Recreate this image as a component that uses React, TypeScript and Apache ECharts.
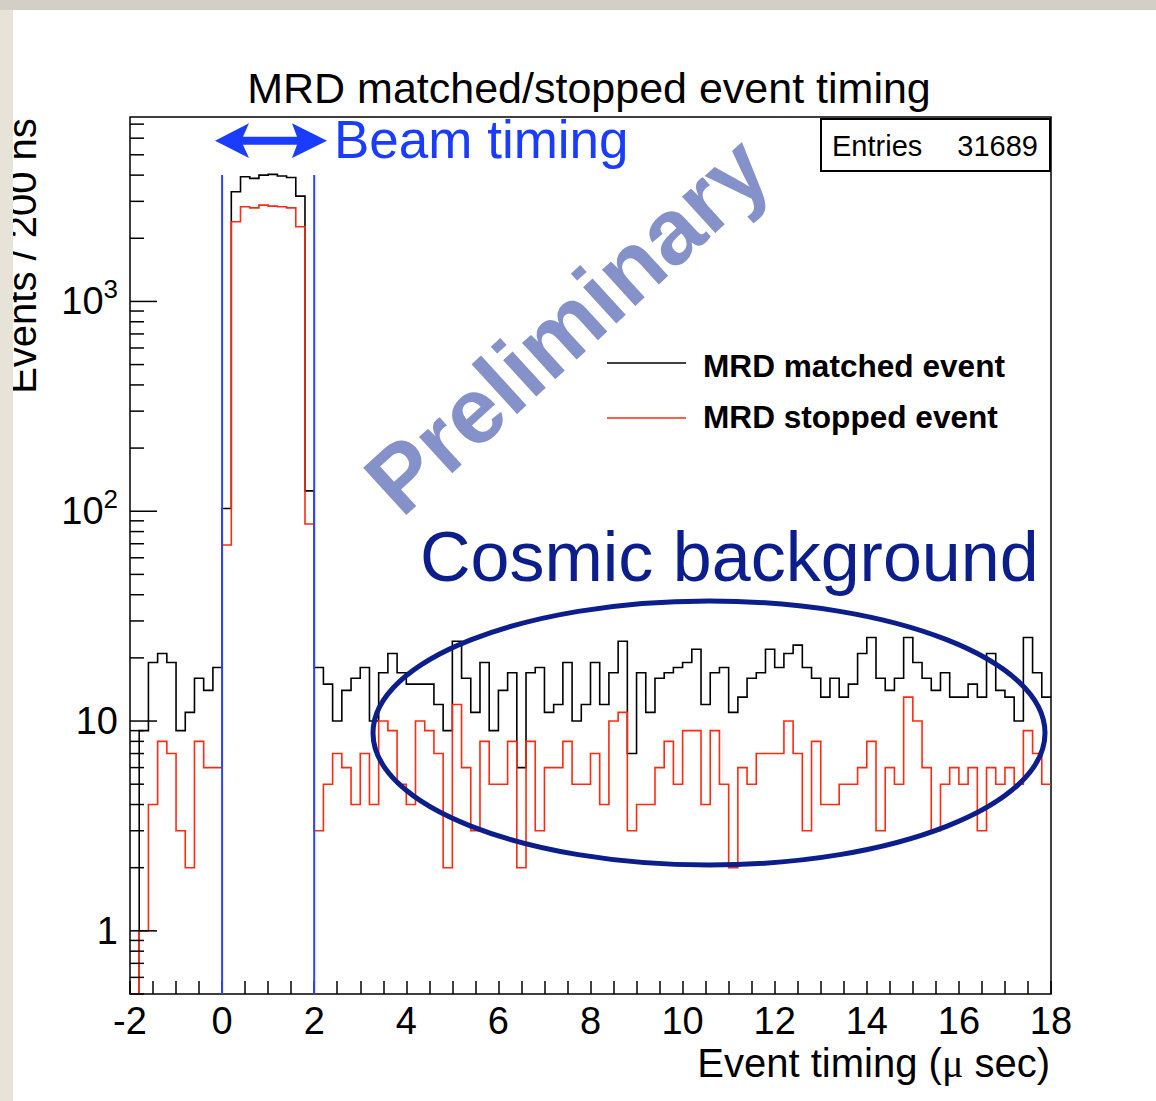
import React, { useEffect, useRef } from "react";
import * as echarts from "echarts";

// ---- data ----
const X_MIN = -2;
const X_MAX = 18;
const X_LABEL_STEP = 2;
const BIN_WIDTH = 0.2; // 200 ns bins
const Y_MIN = 0.5;
const Y_MAX = 7570;

// MRD matched event (black), 100 bins of 200 ns from -2 us
const matched = [
  0, 9, 19, 21, 19, 9, 11, 16, 14, 18,
  103, 3333, 3927, 3860, 4000, 4035, 3960, 3900, 3177, 125,
  18, 15, 10, 14, 16, 18, 10, 17, 21, 17,
  15, 15, 15, 12, 9, 24, 16, 11, 19, 9,
  14, 17, 6, 17, 18, 11, 12, 19, 10, 12,
  19, 12, 17, 24, 7, 17, 11, 16, 17, 18,
  19, 22, 12, 17, 18, 11, 13, 16, 17, 22,
  18, 21, 23, 18, 16, 13, 16, 13, 15, 21,
  25, 16, 14, 16, 25, 19, 16, 14, 17, 13,
  13, 15, 13, 21, 14, 13, 10, 25, 17, 13,
];

// MRD stopped event (red)
const stopped = [
  0, 1, 4, 8, 7, 3, 2, 8, 6, 6,
  69, 2398, 2827, 2793, 2877, 2847, 2827, 2793, 2268, 87,
  3, 5, 7, 6, 4, 7, 4, 10, 9, 5,
  4, 10, 9, 7, 2, 12, 6, 3, 8, 5,
  5, 8, 2, 8, 3, 6, 6, 8, 5, 5,
  7, 4, 10, 11, 3, 4, 4, 6, 8, 5,
  9, 9, 4, 9, 5, 2, 6, 5, 7, 7,
  7, 10, 7, 3, 8, 4, 4, 5, 5, 6,
  8, 3, 6, 5, 13, 10, 6, 3, 5, 6,
  5, 6, 3, 6, 5, 6, 5, 9, 7, 5,
];

const beamWindow = [0, 2];
const BEAM_LINE_TOP = 4000;
const ENTRIES = 31689;

const TITLE = "MRD matched/stopped event timing";
const LEGEND_MATCHED = "MRD matched event";
const LEGEND_STOPPED = "MRD stopped event";

const FONT = '"Liberation Sans", Arial, Helvetica, sans-serif';
const BLUE = "#1a3cff";
const NAVY = "#0b1e8c";

export default function App() {
  const ref = useRef<HTMLDivElement>(null);

  useEffect(() => {
    const chart = echarts.init(ref.current as HTMLDivElement, null, { renderer: "svg" });

    const histSeries = (name: string, values: number[], color: string, z: number) => ({
      type: "custom",
      name,
      data: [[X_MIN, 1]],
      clip: true,
      silent: true,
      z,
      renderItem: (_p: any, api: any) => {
        const pts: number[][] = [];
        values.forEach((v, i) => {
          const lo = X_MIN + i * BIN_WIDTH;
          const hi = lo + BIN_WIDTH;
          const y = Math.max(v, Y_MIN);
          pts.push(api.coord([lo, y]));
          pts.push(api.coord([hi, y]));
        });
        return {
          type: "polyline",
          shape: { points: pts },
          style: { stroke: color, lineWidth: 1.6, fill: null },
        };
      },
    });

    const yTickSeries = {
      type: "custom",
      data: [[X_MIN, 1]],
      silent: true,
      clip: false,
      z: 6,
      renderItem: (_p: any, api: any) => {
        const children: any[] = [];
        for (let d = -1; d <= 4; d++) {
          for (let k = 1; k <= 9; k++) {
            const v = k * Math.pow(10, d);
            if (v < Y_MIN - 1e-9 || v > Y_MAX) continue;
            const [x, y] = api.coord([X_MIN, v]);
            const len = k === 1 ? 27 : 14;
            children.push({
              type: "line",
              shape: { x1: x, y1: y, x2: x + len, y2: y },
              style: { stroke: "#000", lineWidth: 1.5 },
            });
          }
        }
        return { type: "group", children };
      },
    };

    const beamLineSeries = {
      type: "custom",
      data: [[X_MIN, 1]],
      silent: true,
      clip: false,
      z: 7,
      renderItem: (_p: any, api: any) => ({
        type: "group",
        children: beamWindow.map((bx) => {
          const [x, yb] = api.coord([bx, Y_MIN]);
          const [, yt] = api.coord([bx, BEAM_LINE_TOP]);
          return {
            type: "line",
            shape: { x1: x, y1: yt, x2: x, y2: yb },
            style: { stroke: "#2b46f2", lineWidth: 2 },
          };
        }),
      }),
    };

    const option: any = {
      animation: false,
      backgroundColor: "#ffffff",
      title: {
        text: TITLE,
        left: 589,
        top: 66,
        padding: 0,
        textAlign: "center",
        textStyle: { fontSize: 43, fontWeight: "normal", fontFamily: FONT, color: "#000" },
      },
      grid: {
        left: 130,
        top: 117,
        width: 921,
        height: 877,
        show: true,
        borderColor: "#000",
        borderWidth: 1.5,
        backgroundColor: "#fff",
      },
      xAxis: {
        type: "value",
        min: X_MIN,
        max: X_MAX,
        interval: X_LABEL_STEP,
        axisLine: { show: false },
        splitLine: { show: false },
        axisTick: { show: true, inside: true, length: 13, lineStyle: { color: "#000", width: 1.5 } },
        minorTick: { show: true, splitNumber: 4, length: 13, lineStyle: { color: "#000", width: 1.5 } },
        minorSplitLine: { show: false },
        axisLabel: { fontSize: 38, color: "#000", fontFamily: FONT, margin: 8 },
      },
      yAxis: {
        type: "log",
        logBase: 10,
        min: Y_MIN,
        max: Y_MAX,
        axisLine: { show: false },
        axisTick: { show: false },
        splitLine: { show: false },
        axisLabel: {
          margin: 12,
          color: "#000",
          fontFamily: FONT,
          formatter: (v: number) => {
            const l = Math.log10(v);
            const r = Math.round(l);
            if (Math.abs(l - r) > 1e-6) return "";
            if (r === 0) return "{b|1}";
            if (r === 1) return "{b|10}";
            return `{b|10}{s|${r}}`;
          },
          rich: {
            b: { fontSize: 38, lineHeight: 38, fontFamily: FONT, color: "#000", verticalAlign: "bottom" },
            s: {
              fontSize: 26,
              lineHeight: 26,
              padding: [0, 0, 18, 0],
              fontFamily: FONT,
              color: "#000",
              verticalAlign: "bottom",
            },
          },
        },
      },
      series: [
        yTickSeries,
        histSeries(LEGEND_MATCHED, matched, "#000000", 3),
        histSeries(LEGEND_STOPPED, stopped, "#ff2a10", 4),
        beamLineSeries,
      ],
      graphic: [
        // Beam timing arrow
        {
          type: "polygon",
          z: 10,
          shape: {
            points: [
              [215, 140.7],
              [249, 123.3],
              [243, 136.7],
              [297, 136.7],
              [292, 123.3],
              [327, 140.7],
              [292, 158],
              [297, 144.7],
              [243, 144.7],
              [249, 158],
            ],
          },
          style: { fill: BLUE },
        },
        {
          type: "text",
          z: 10,
          x: 334,
          y: 139,
          style: {
            text: "Beam timing",
            fontSize: 53,
            fontFamily: FONT,
            fill: BLUE,
            align: "left",
            verticalAlign: "middle",
          },
        },
        // Entries box
        {
          type: "rect",
          z: 10,
          shape: { x: 821, y: 119, width: 229, height: 52 },
          style: { fill: "#fff", stroke: "#000", lineWidth: 2 },
        },
        {
          type: "text",
          z: 11,
          x: 832,
          y: 146,
          style: { text: "Entries", fontSize: 29, fontFamily: FONT, fill: "#000", align: "left", verticalAlign: "middle" },
        },
        {
          type: "text",
          z: 11,
          x: 1038,
          y: 146,
          style: { text: String(ENTRIES), fontSize: 29, fontFamily: FONT, fill: "#000", align: "right", verticalAlign: "middle" },
        },
        // Legend
        {
          type: "line",
          z: 10,
          shape: { x1: 607, y1: 363, x2: 686, y2: 363 },
          style: { stroke: "#000", lineWidth: 1.6 },
        },
        {
          type: "text",
          z: 10,
          x: 703,
          y: 366,
          style: {
            text: LEGEND_MATCHED,
            fontSize: 31.6,
            fontWeight: "bold",
            fontFamily: FONT,
            fill: "#000",
            align: "left",
            verticalAlign: "middle",
          },
        },
        {
          type: "line",
          z: 10,
          shape: { x1: 607, y1: 418, x2: 686, y2: 418 },
          style: { stroke: "#ff2a10", lineWidth: 1.6 },
        },
        {
          type: "text",
          z: 10,
          x: 703,
          y: 417,
          style: {
            text: LEGEND_STOPPED,
            fontSize: 31.6,
            fontWeight: "bold",
            fontFamily: FONT,
            fill: "#000",
            align: "left",
            verticalAlign: "middle",
          },
        },
        // Preliminary watermark
        {
          type: "text",
          z: 9,
          x: 567,
          y: 325,
          rotation: 0.74,
          style: {
            text: "Preliminary",
            fontSize: 93,
            fontWeight: "bold",
            fontFamily: FONT,
            fill: "#8591c9",
            align: "center",
            verticalAlign: "middle",
          },
        },
        // Cosmic background annotation
        {
          type: "text",
          z: 10,
          x: 420,
          y: 557,
          style: {
            text: "Cosmic background",
            fontSize: 70,
            fontFamily: FONT,
            fill: NAVY,
            align: "left",
            verticalAlign: "middle",
          },
        },
        {
          type: "ellipse",
          z: 10,
          shape: { cx: 709, cy: 733, rx: 336, ry: 132 },
          style: { fill: null, stroke: NAVY, lineWidth: 5 },
        },
        // Axis titles
        {
          type: "text",
          z: 10,
          x: 1050,
          y: 1063,
          style: {
            text: "Event timing ({mu|μ} sec)",
            fontSize: 40,
            fontFamily: FONT,
            fill: "#000",
            align: "right",
            verticalAlign: "middle",
            rich: {
              mu: { fontSize: 40, fontFamily: '"Liberation Serif", "DejaVu Serif", serif', fill: "#000" },
            },
          },
        },
        {
          type: "text",
          z: 10,
          x: 22,
          y: 256,
          rotation: Math.PI / 2,
          style: {
            text: "Events / 200 ns",
            fontSize: 40,
            fontFamily: FONT,
            fill: "#000",
            align: "center",
            verticalAlign: "middle",
          },
        },
        // page border strips
        {
          type: "rect",
          z: 100,
          shape: { x: 0, y: 0, width: 13, height: 1101 },
          style: { fill: "#e7e3d8" },
        },
        {
          type: "rect",
          z: 100,
          shape: { x: 0, y: 0, width: 1156, height: 10 },
          style: { fill: "#d3cfc6" },
        },
      ],
    };

    chart.setOption(option);
    return () => chart.dispose();
  }, []);

  return <div ref={ref} style={{ position: "fixed", left: 0, top: 0, width: 1156, height: 1101 }} />;
}
